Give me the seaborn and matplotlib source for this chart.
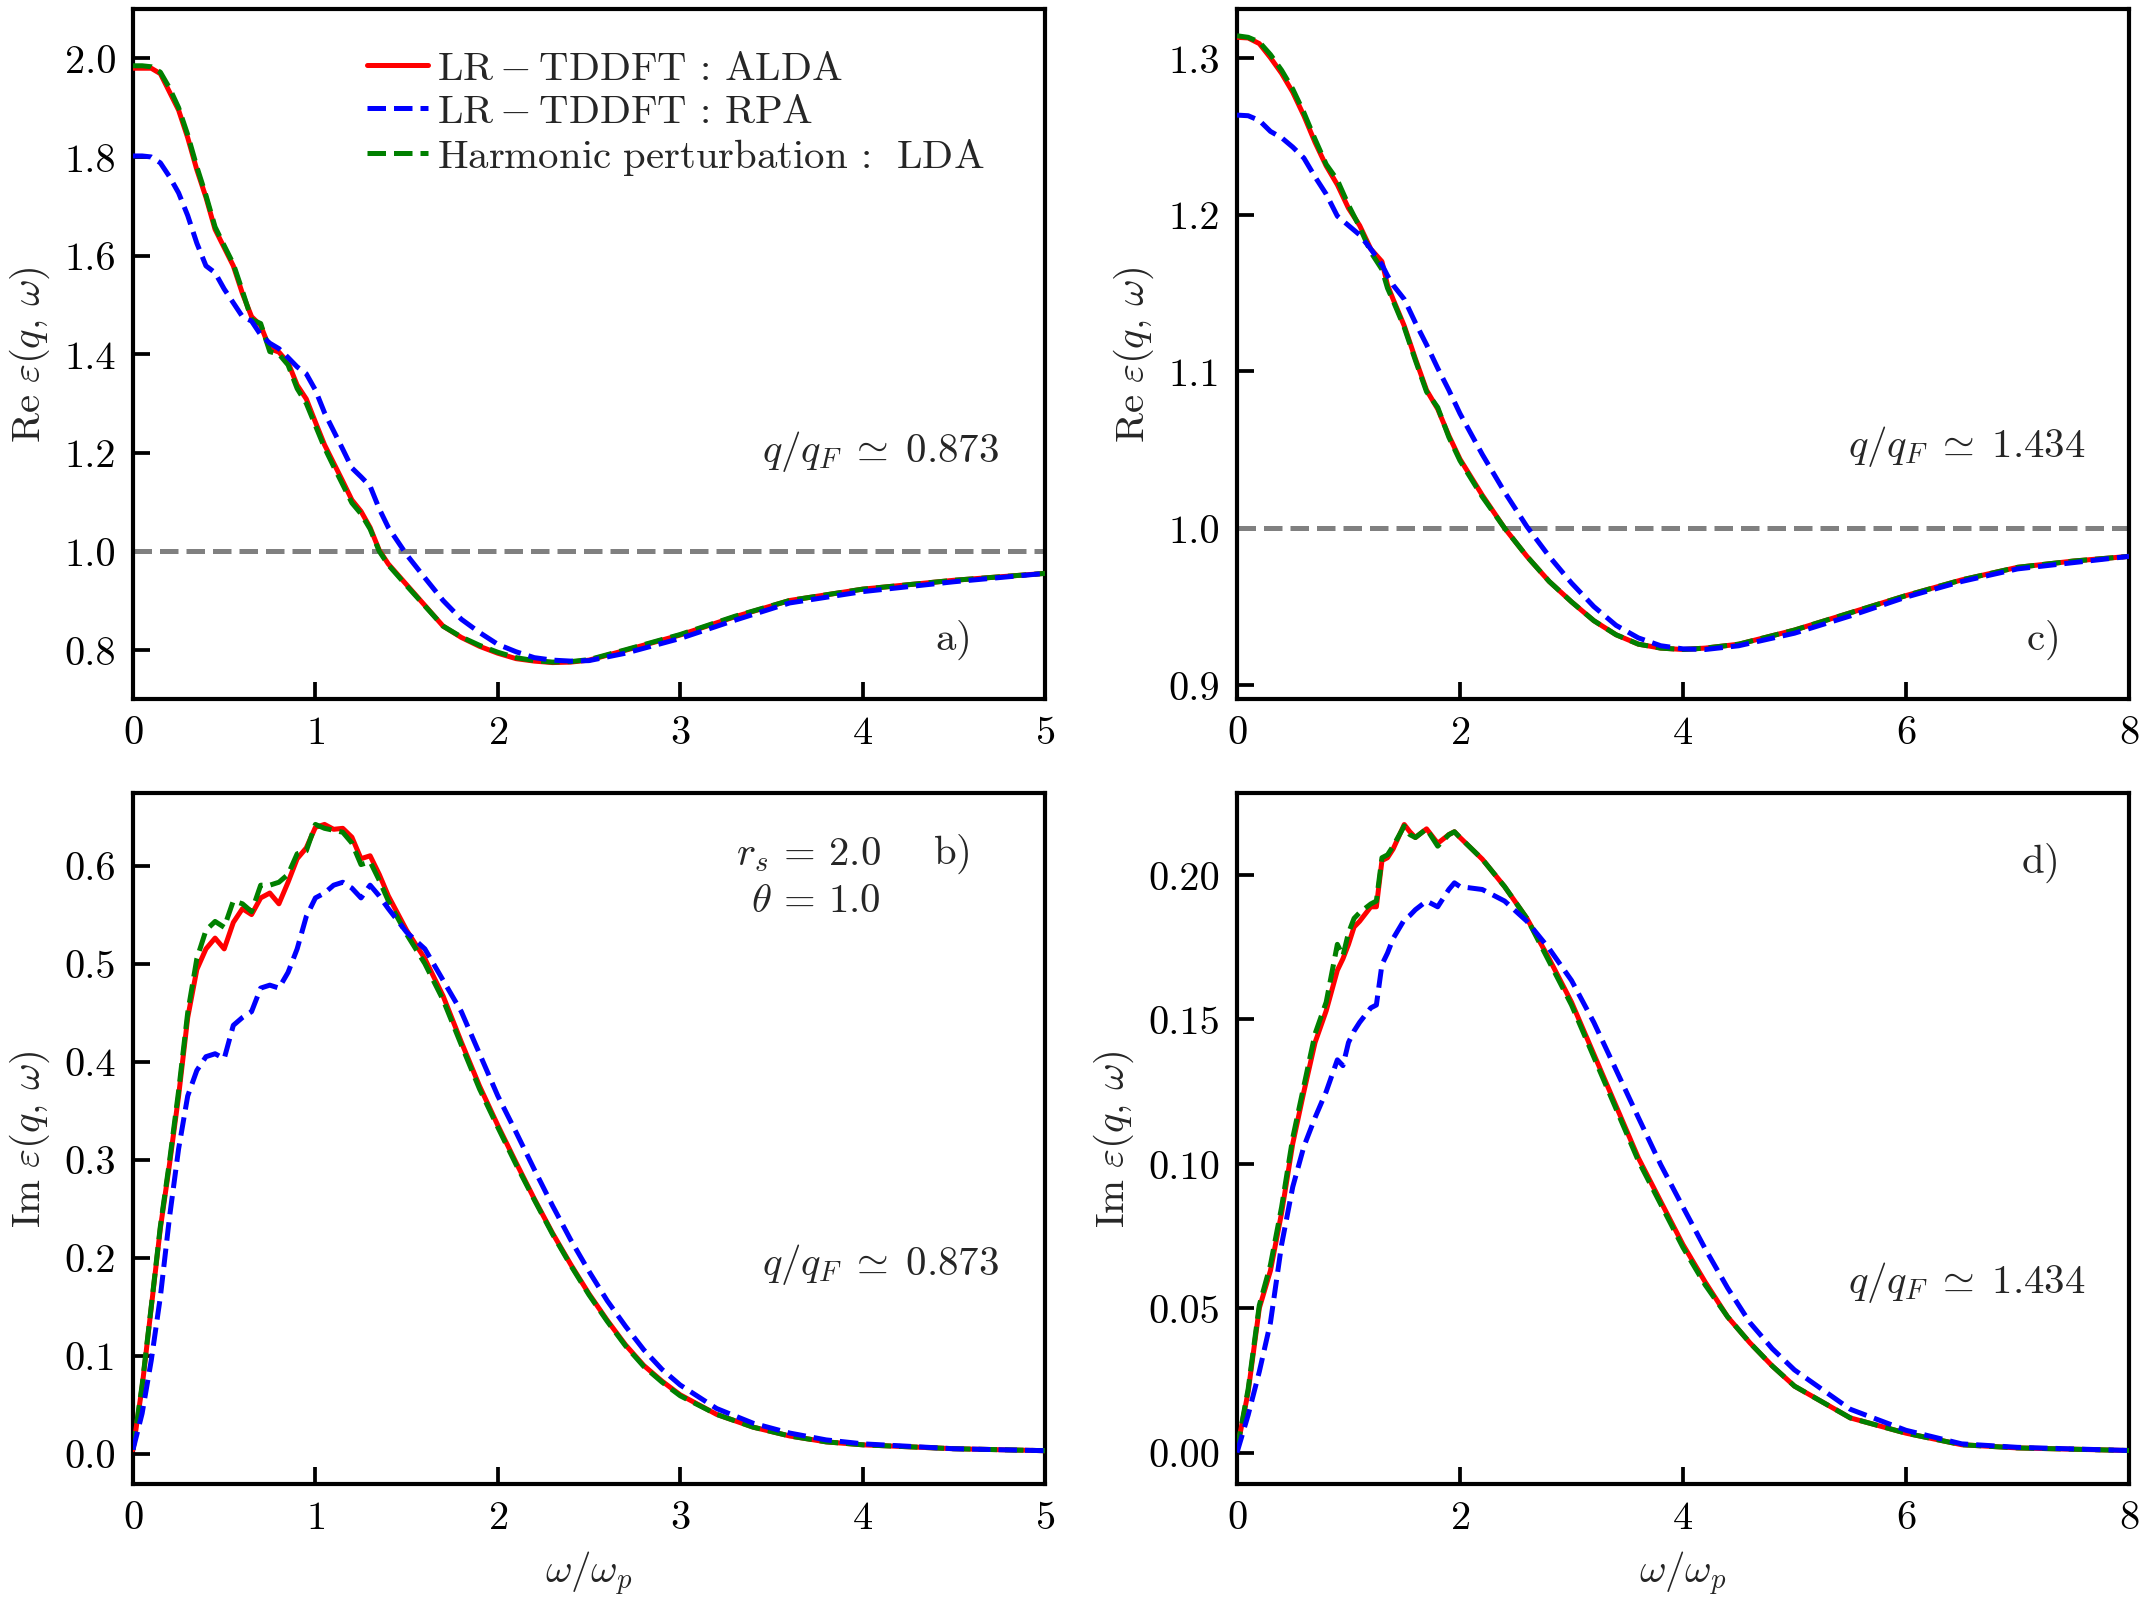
import numpy as np
import matplotlib
matplotlib.use("Agg")
import matplotlib.pyplot as plt
import seaborn as sns

# ---- panel a / c : real part ----
omega_a = [0, 0.05, 0.1, 0.15, 0.2, 0.25, 0.3, 0.35, 0.4, 0.45, 0.5, 0.55, 0.6, 0.65,
           0.7, 0.75, 0.8, 0.85, 0.9, 0.95, 1.0, 1.05, 1.1, 1.15, 1.2, 1.25, 1.3, 1.35,
           1.4, 1.5, 1.6, 1.7, 1.8, 1.9, 2.0, 2.1, 2.2, 2.3, 2.4, 2.5, 2.7, 3.0, 3.3,
           3.6, 4.0, 4.5, 5.0]
re_alda_a = [1.980, 1.980, 1.980, 1.969, 1.932, 1.895, 1.839, 1.774, 1.718, 1.653, 1.616,
             1.579, 1.523, 1.476, 1.458, 1.411, 1.404, 1.383, 1.337, 1.309, 1.262, 1.216,
             1.179, 1.142, 1.104, 1.081, 1.048, 1.002, 0.974, 0.932, 0.890, 0.848, 0.825,
             0.807, 0.793, 0.782, 0.777, 0.774, 0.775, 0.779, 0.799, 0.830, 0.867, 0.900,
             0.923, 0.941, 0.955]
re_lda_a = [1.985, 1.985, 1.983, 1.972, 1.940, 1.900, 1.845, 1.780, 1.722, 1.658, 1.620,
            1.583, 1.528, 1.470, 1.462, 1.405, 1.400, 1.378, 1.330, 1.300, 1.255, 1.210,
            1.172, 1.135, 1.098, 1.076, 1.045, 1.000, 0.972, 0.930, 0.889, 0.848, 0.826,
            0.809, 0.795, 0.784, 0.778, 0.775, 0.776, 0.780, 0.800, 0.831, 0.868, 0.900,
            0.923, 0.941, 0.955]
re_rpa_a = [1.802, 1.802, 1.800, 1.788, 1.760, 1.727, 1.681, 1.625, 1.579, 1.565, 1.532,
            1.504, 1.476, 1.467, 1.439, 1.422, 1.411, 1.393, 1.374, 1.360, 1.327, 1.281,
            1.244, 1.207, 1.169, 1.151, 1.132, 1.086, 1.048, 0.993, 0.946, 0.900, 0.862,
            0.835, 0.811, 0.796, 0.784, 0.779, 0.777, 0.778, 0.793, 0.823, 0.860, 0.895,
            0.918, 0.938, 0.955]

omega_c = [0, 0.1, 0.2, 0.3, 0.4, 0.5, 0.6, 0.7, 0.8, 0.9, 1.0, 1.1, 1.2, 1.3, 1.35, 1.4,
           1.5, 1.6, 1.7, 1.8, 1.9, 2.0, 2.2, 2.4, 2.6, 2.8, 3.0, 3.2, 3.4, 3.6, 3.8, 4.0,
           4.2, 4.5, 5.0, 5.5, 6.0, 6.5, 7.0, 7.5, 8.0]
re_alda_c = [1.313, 1.3126, 1.309, 1.300, 1.290, 1.278, 1.263, 1.246, 1.231, 1.219, 1.204,
             1.193, 1.178, 1.170, 1.155, 1.146, 1.129, 1.108, 1.088, 1.076, 1.059, 1.044,
             1.021, 1.000, 0.982, 0.966, 0.953, 0.941, 0.932, 0.926, 0.9235, 0.9226,
             0.9235, 0.926, 0.935, 0.946, 0.957, 0.967, 0.975, 0.979, 0.982]
re_lda_c = [1.314, 1.313, 1.310, 1.302, 1.292, 1.280, 1.265, 1.248, 1.232, 1.222, 1.206,
            1.192, 1.176, 1.165, 1.153, 1.145, 1.128, 1.107, 1.087, 1.077, 1.058, 1.043,
            1.020, 1.000, 0.982, 0.966, 0.953, 0.941, 0.932, 0.926, 0.9235, 0.9226,
            0.9235, 0.926, 0.935, 0.946, 0.957, 0.967, 0.975, 0.979, 0.982]
re_rpa_c = [1.2634, 1.263, 1.260, 1.253, 1.249, 1.243, 1.236, 1.224, 1.213, 1.199, 1.193,
            1.187, 1.178, 1.168, 1.161, 1.155, 1.146, 1.131, 1.117, 1.102, 1.088, 1.073,
            1.047, 1.023, 1.001, 0.982, 0.965, 0.950, 0.938, 0.930, 0.925, 0.923, 0.9226,
            0.925, 0.933, 0.944, 0.956, 0.966, 0.974, 0.978, 0.982]

# ---- panel b / d : imaginary part ----
omega_b = [0, 0.05, 0.1, 0.15, 0.2, 0.25, 0.3, 0.35, 0.4, 0.45, 0.5, 0.55, 0.6, 0.65,
           0.7, 0.75, 0.8, 0.85, 0.9, 0.95, 1.0, 1.05, 1.1, 1.15, 1.2, 1.25, 1.3, 1.35,
           1.4, 1.5, 1.6, 1.7, 1.8, 1.9, 2.0, 2.1, 2.2, 2.3, 2.4, 2.5, 2.6, 2.7, 2.8,
           2.9, 3.0, 3.2, 3.4, 3.6, 3.8, 4.0, 4.5, 5.0]
im_alda_b = [0.004, 0.068, 0.149, 0.230, 0.295, 0.365, 0.445, 0.494, 0.515, 0.526, 0.515,
             0.542, 0.556, 0.550, 0.567, 0.572, 0.561, 0.583, 0.607, 0.618, 0.639, 0.642,
             0.637, 0.638, 0.629, 0.607, 0.610, 0.591, 0.569, 0.534, 0.505, 0.467, 0.420,
             0.375, 0.335, 0.297, 0.260, 0.225, 0.193, 0.163, 0.136, 0.111, 0.090, 0.074,
             0.060, 0.040, 0.027, 0.018, 0.012, 0.009, 0.005, 0.003]
im_lda_b = [0.004, 0.070, 0.150, 0.232, 0.298, 0.370, 0.450, 0.505, 0.534, 0.543, 0.537,
            0.564, 0.561, 0.553, 0.580, 0.580, 0.583, 0.591, 0.612, 0.615, 0.642, 0.638,
            0.636, 0.634, 0.623, 0.601, 0.604, 0.585, 0.564, 0.530, 0.500, 0.463, 0.417,
            0.372, 0.333, 0.295, 0.259, 0.224, 0.192, 0.162, 0.135, 0.110, 0.089, 0.073,
            0.059, 0.040, 0.027, 0.018, 0.012, 0.009, 0.005, 0.003]
im_rpa_b = [0.004, 0.041, 0.095, 0.160, 0.241, 0.311, 0.365, 0.391, 0.405, 0.408, 0.403,
            0.437, 0.445, 0.451, 0.475, 0.478, 0.475, 0.491, 0.515, 0.548, 0.567, 0.572,
            0.580, 0.583, 0.577, 0.567, 0.580, 0.569, 0.556, 0.532, 0.515, 0.483, 0.451,
            0.408, 0.365, 0.328, 0.290, 0.253, 0.218, 0.186, 0.156, 0.130, 0.106, 0.086,
            0.070, 0.046, 0.031, 0.021, 0.014, 0.010, 0.005, 0.003]

omega_d = [0, 0.1, 0.2, 0.3, 0.4, 0.5, 0.6, 0.7, 0.8, 0.9, 0.95, 1.0, 1.05, 1.1, 1.2,
           1.25, 1.3, 1.35, 1.4, 1.5, 1.55, 1.6, 1.7, 1.8, 1.9, 1.95, 2.0, 2.2, 2.4, 2.6,
           2.8, 3.0, 3.2, 3.4, 3.6, 3.8, 4.0, 4.2, 4.4, 4.6, 4.8, 5.0, 5.5, 6.0, 6.5,
           7.0, 8.0]
im_alda_d = [0.001, 0.021, 0.050, 0.063, 0.083, 0.107, 0.125, 0.142, 0.153, 0.167, 0.171,
             0.176, 0.182, 0.184, 0.189, 0.189, 0.205, 0.206, 0.209, 0.2175, 0.215, 0.213,
             0.216, 0.211, 0.214, 0.215, 0.213, 0.2055, 0.196, 0.185, 0.171, 0.156, 0.138,
             0.120, 0.102, 0.087, 0.072, 0.059, 0.047, 0.038, 0.030, 0.023, 0.012, 0.0067,
             0.0027, 0.0016, 0.0007]
im_lda_d = [0.001, 0.022, 0.051, 0.065, 0.085, 0.109, 0.127, 0.145, 0.156, 0.176, 0.172,
            0.180, 0.185, 0.187, 0.190, 0.191, 0.206, 0.207, 0.210, 0.217, 0.214, 0.213,
            0.216, 0.210, 0.214, 0.215, 0.213, 0.2055, 0.196, 0.185, 0.170, 0.155, 0.137,
            0.119, 0.101, 0.086, 0.071, 0.058, 0.047, 0.038, 0.030, 0.023, 0.012, 0.0067,
            0.0027, 0.0016, 0.0007]
im_rpa_d = [0.000, 0.013, 0.028, 0.045, 0.072, 0.092, 0.106, 0.116, 0.125, 0.136, 0.134,
            0.142, 0.146, 0.149, 0.154, 0.155, 0.169, 0.173, 0.178, 0.1845, 0.186, 0.188,
            0.191, 0.189, 0.195, 0.1973, 0.196, 0.195, 0.191, 0.184, 0.1745, 0.1635, 0.149,
            0.1325, 0.116, 0.0997, 0.085, 0.0705, 0.057, 0.045, 0.036, 0.0286, 0.015,
            0.0077, 0.003, 0.0018, 0.0007]

LBL_ALDA = r'$\mathrm{LR-TDDFT\,:\,ALDA}$'
LBL_RPA = r'$\mathrm{LR-TDDFT\,:\,RPA}$'
LBL_LDA = r'$\mathrm{Harmonic\ perturbation\,:\ \,LDA}$'

sns.set_theme(style="white")
plt.rcParams['font.family'] = 'serif'
plt.rcParams['font.serif'] = ['cmr10', 'DejaVu Serif']
plt.rcParams['mathtext.fontset'] = 'cm'
plt.rcParams['axes.formatter.use_mathtext'] = True
plt.rcParams['axes.unicode_minus'] = False
FS = 9.8
TFS = 9.7


def draw(ax, x, alda, lda, rpa):
    sns.lineplot(x=x, y=alda, ax=ax, color='red', lw=1.2, label=LBL_ALDA,
                 estimator=None, sort=False, zorder=3)
    sns.lineplot(x=x, y=lda, ax=ax, color='green', lw=1.2, linestyle='--',
                 label=LBL_LDA, estimator=None, sort=False, zorder=4)
    sns.lineplot(x=x, y=rpa, ax=ax, color='blue', lw=1.2, linestyle='--',
                 label=LBL_RPA, estimator=None, sort=False, zorder=5)
    ax.get_legend().remove()
    for s in ax.spines.values():
        s.set_linewidth(1.0)
        s.set_color('black')
    ax.tick_params(direction='in', length=4, width=0.9, labelsize=TFS, pad=4,
                   left=True, bottom=True, top=False, right=False, colors='black')


fig = plt.figure(figsize=(7.15, 5.353), dpi=300)
W, H = 2145, 1606


def rect(l, r, t, b):
    return [l / W, 1 - b / H, (r - l) / W, (b - t) / H]


ax_a = fig.add_axes(rect(133, 1045, 10, 700))
ax_c = fig.add_axes(rect(1237, 2129, 10, 700))
ax_b = fig.add_axes(rect(133, 1045, 794, 1485))
ax_d = fig.add_axes(rect(1237, 2129, 794, 1485))

draw(ax_a, omega_a, re_alda_a, re_lda_a, re_rpa_a)
draw(ax_c, omega_c, re_alda_c, re_lda_c, re_rpa_c)
draw(ax_b, omega_b, im_alda_b, im_lda_b, im_rpa_b)
draw(ax_d, omega_d, im_alda_d, im_lda_d, im_rpa_d)

for ax in (ax_a, ax_c):
    ax.axhline(1.0, color='gray', ls='--', lw=1.2, zorder=2)
    ax.set_ylabel(r'$\mathrm{Re}\ \varepsilon(q,\,\omega)$', fontsize=FS, labelpad=3)
    ax.set_xlabel('')
for ax in (ax_b, ax_d):
    ax.set_ylabel(r'$\mathrm{Im}\ \varepsilon(q,\,\omega)$', fontsize=FS, labelpad=3)
    ax.set_xlabel(r'$\omega/\omega_p$', fontsize=FS, labelpad=3)

ax_a.set_xlim(0, 5)
ax_a.set_ylim(0.7, 2.1)
ax_a.set_xticks([0, 1, 2, 3, 4, 5])
ax_a.set_yticks([0.8, 1.0, 1.2, 1.4, 1.6, 1.8, 2.0])
ax_a.set_yticklabels(['0.8', '1.0', '1.2', '1.4', '1.6', '1.8', '2.0'])

ax_c.set_xlim(0, 8)
ax_c.set_ylim(0.891, 1.331)
ax_c.set_xticks([0, 2, 4, 6, 8])
ax_c.set_yticks([0.9, 1.0, 1.1, 1.2, 1.3])
ax_c.set_yticklabels(['0.9', '1.0', '1.1', '1.2', '1.3'])

ax_b.set_xlim(0, 5)
ax_b.set_ylim(-0.031, 0.674)
ax_b.set_xticks([0, 1, 2, 3, 4, 5])
ax_b.set_yticks([0.0, 0.1, 0.2, 0.3, 0.4, 0.5, 0.6])
ax_b.set_yticklabels(['0.0', '0.1', '0.2', '0.3', '0.4', '0.5', '0.6'])

ax_d.set_xlim(0, 8)
ax_d.set_ylim(-0.0109, 0.2284)
ax_d.set_xticks([0, 2, 4, 6, 8])
ax_d.set_yticks([0.0, 0.05, 0.10, 0.15, 0.20])
ax_d.set_yticklabels(['0.00', '0.05', '0.10', '0.15', '0.20'])

# annotations
kw = dict(fontsize=FS, ha='right', va='center')
ax_a.text(0.950, 0.36, r'$q/q_F\;\simeq\;0.873$', transform=ax_a.transAxes, **kw)
ax_a.text(0.917, 0.087, r'$\mathrm{a)}$', transform=ax_a.transAxes, **kw)
ax_c.text(0.951, 0.368, r'$q/q_F\;\simeq\;1.434$', transform=ax_c.transAxes, **kw)
ax_c.text(0.920, 0.087, r'$\mathrm{c)}$', transform=ax_c.transAxes, **kw)
ax_b.text(0.820, 0.913, r'$r_s\,=\,2.0$', transform=ax_b.transAxes, **kw)
ax_b.text(0.820, 0.843, r'$\theta\,=\,1.0$', transform=ax_b.transAxes, **kw)
ax_b.text(0.917, 0.913, r'$\mathrm{b)}$', transform=ax_b.transAxes, **kw)
ax_b.text(0.950, 0.319, r'$q/q_F\;\simeq\;0.873$', transform=ax_b.transAxes, **kw)
ax_d.text(0.920, 0.899, r'$\mathrm{d)}$', transform=ax_d.transAxes, **kw)
ax_d.text(0.951, 0.293, r'$q/q_F\;\simeq\;1.434$', transform=ax_d.transAxes, **kw)

handles, labels = ax_a.get_legend_handles_labels()
order = [labels.index(LBL_ALDA), labels.index(LBL_RPA), labels.index(LBL_LDA)]
ax_a.legend([handles[i] for i in order], [labels[i] for i in order],
            loc='upper right', bbox_to_anchor=(0.96, 0.975), frameon=False,
            fontsize=FS, handlelength=1.5, handletextpad=0.2, labelspacing=0.15,
            borderaxespad=0.2)

plt.savefig('out.png', dpi=300)
